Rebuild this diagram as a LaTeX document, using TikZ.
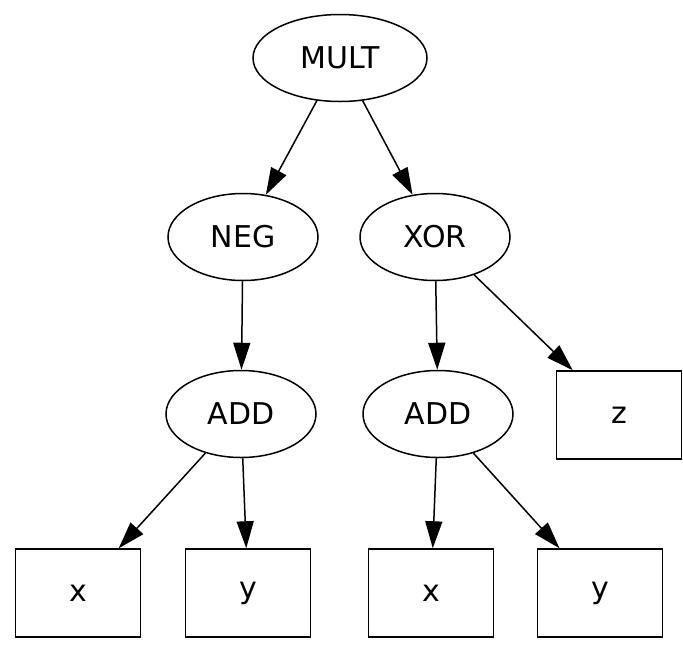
\documentclass[tikz,border=0pt]{standalone}
\usepackage{fontspec}
\setmainfont{DejaVu Sans}
\usetikzlibrary{shapes.geometric,arrows.meta}
\begin{document}
\begin{tikzpicture}[x=1pt,y=-1pt,
  op/.style={ellipse,draw,line width=1.5pt,minimum width=150pt,minimum height=87pt,
    inner sep=0pt,font=\fontsize{30}{36}\selectfont},
  leaf/.style={rectangle,draw,line width=1.5pt,minimum width=125pt,minimum height=88pt,
    inner sep=0pt,font=\fontsize{30}{36}\selectfont},
  link/.style={-{Triangle[length=27pt,width=17pt]},line width=1.5pt}]
\useasboundingbox (0,0) rectangle (683,646);
\fill[white] (0,0) rectangle (683,646);

% operator nodes
\node[op,minimum width=174pt] (mult) at (340,58) {MULT};
\node[op] (neg)  at (243,237) {NEG};
\node[op] (xor)  at (435,237) {XOR};
\node[op] (addl) at (241,414) {ADD};
\node[op] (addr) at (438,414) {ADD};

% leaf nodes
\node[leaf] (z)  at (619,415) {z};
\node[leaf] (xl) at (78,593)  {x};
\node[leaf] (yl) at (248,593) {y};
\node[leaf] (xr) at (431,593) {x};
\node[leaf] (yr) at (600,593) {y};

% edges
\draw[link] (mult) -- (neg);
\draw[link] (mult) -- (xor);
\draw[link] (neg)  -- (addl);
\draw[link] (xor)  -- (addr);
\draw[link] (xor)  -- (z);
\draw[link] (addl) -- (xl);
\draw[link] (addl) -- (yl);
\draw[link] (addr) -- (xr);
\draw[link] (addr) -- (yr);
\end{tikzpicture}
\end{document}
